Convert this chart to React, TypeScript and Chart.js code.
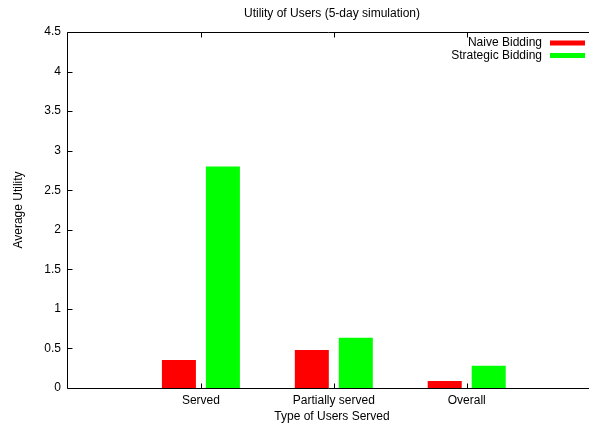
import React, { useEffect, useRef } from "react";
import { Chart, registerables } from "chart.js";

Chart.register(...registerables);

const categories = ["Served", "Partially served", "Overall"];
const naiveValues = [0.354, 0.48, 0.088];
const strategicValues = [2.8, 0.636, 0.282];
const seriesLabels = ["Naive Bidding", "Strategic Bidding"];
const seriesColors = ["#ff0000", "#00ff00"];
const yTicks = [0, 0.5, 1, 1.5, 2, 2.5, 3, 3.5, 4, 4.5];
const chartTitle = "Utility of Users (5-day simulation)";
const xTitle = "Type of Users Served";

const FONT = "'Liberation Sans', Arial, Helvetica, sans-serif";
const FS = 12;

const framePlugin = {
  id: "gnuframe",
  afterDraw(chart: any) {
    const ctx = chart.ctx;
    const { left, right, top, bottom } = chart.chartArea;
    const xs = chart.scales.x;
    const ys = chart.scales.y;
    ctx.save();
    ctx.strokeStyle = "#000";
    ctx.lineWidth = 1;
    const L = left - 0.5;
    const T = top + 0.5;
    const B = bottom + 0.5;
    ctx.beginPath();
    ctx.moveTo(L, T);
    ctx.lineTo(right, T);
    ctx.moveTo(L, T);
    ctx.lineTo(L, B);
    ctx.lineTo(right, B);
    ctx.stroke();
    // y ticks (inward)
    ctx.beginPath();
    yTicks.forEach((v) => {
      const y = Math.round(ys.getPixelForValue(v)) + 0.5;
      ctx.moveTo(L, y);
      ctx.lineTo(L + 5, y);
    });
    // x ticks (inward, bottom + mirror top)
    categories.forEach((_, i) => {
      const x = Math.round(xs.getPixelForValue(i)) + 0.5;
      ctx.moveTo(x, B);
      ctx.lineTo(x, B - 5);
      ctx.moveTo(x, T);
      ctx.lineTo(x, T + 5);
    });
    ctx.stroke();
    ctx.font = `${FS}px ${FONT}`;
    ctx.textBaseline = "middle";
    ctx.textAlign = "center";
    ctx.fillStyle = "#000";
    // titles centred on the full gnuplot plot width (partly off-canvas)
    const cx = (left + right + 7) / 2;
    ctx.fillText(chartTitle, cx, 14);
    ctx.fillText(xTitle, cx, 416.5);
    // legend
    ctx.textAlign = "right";
    chart.data.datasets.forEach((ds: any, i: number) => {
      const y = 43 + i * 12.5;
      ctx.fillStyle = "#000";
      ctx.fillText(ds.label, 542, y);
      ctx.fillStyle = ds.backgroundColor;
      ctx.fillRect(550, y - 2.5, 35, 5);
    });
    ctx.restore();
  },
};

export default function App() {
  const ref = useRef<HTMLCanvasElement>(null);
  useEffect(() => {
    if (!ref.current) return;
    const chart = new Chart(ref.current, {
      type: "bar",
      data: {
        datasets: [
          {
            label: seriesLabels[0],
            data: naiveValues.map((y, i) => ({ x: i, y })),
            backgroundColor: seriesColors[0],
            borderWidth: 0,
          },
          {
            label: seriesLabels[1],
            data: strategicValues.map((y, i) => ({ x: i, y })),
            backgroundColor: seriesColors[1],
            borderWidth: 0,
          },
        ],
      },
      options: {
        animation: false,
        responsive: false,
        devicePixelRatio: 1,
        datasets: { bar: { categoryPercentage: 0.662, barPercentage: 0.773 } },
        layout: { padding: { top: 32, left: 0, right: 0, bottom: 0 } },
        plugins: {
          legend: { display: false },
          tooltip: { enabled: false },
          title: { display: false },
        },
        scales: {
          x: {
            type: "linear",
            offset: false,
            min: -1,
            max: 2.92,
            grid: { display: false, drawTicks: false, offset: false },
            border: { display: false },
            afterBuildTicks: (s: any) => {
              s.ticks = categories.map((_, i) => ({ value: i }));
            },
            afterFit: (s: any) => {
              s.height = 42;
            },
            ticks: {
              color: "#000",
              padding: 5,
              maxRotation: 0,
              autoSkip: false,
              font: { family: FONT, size: FS },
              callback: (v: any) => categories[v] ?? "",
            },
          },
          y: {
            min: 0,
            max: 4.5,
            grid: { display: false, drawTicks: false },
            border: { display: false },
            afterBuildTicks: (s: any) => {
              s.ticks = yTicks.map((v) => ({ value: v }));
            },
            afterFit: (s: any) => {
              s.width = 68;
            },
            ticks: {
              color: "#000",
              padding: 7,
              font: { family: FONT, size: FS },
              callback: (v: any) => String(v),
            },
            title: {
              display: true,
              text: "Average Utility",
              color: "#000",
              font: { family: FONT, size: FS },
              padding: { top: 11, bottom: 0 },
            },
          },
        },
      },
      plugins: [framePlugin],
    });
    return () => chart.destroy();
  }, []);
  return (
    <div style={{ position: "fixed", left: 0, top: 0, width: 589, height: 430, background: "#fff" }}>
      <canvas ref={ref} width={589} height={430} style={{ display: "block" }} />
    </div>
  );
}
